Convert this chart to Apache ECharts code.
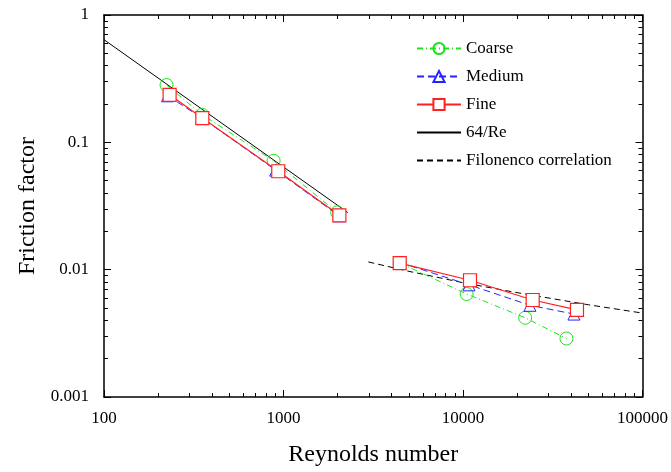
<!DOCTYPE html>
<html><head><meta charset="utf-8">
<script src="https://cdn.jsdelivr.net/npm/echarts@6/dist/echarts.min.js"></script>
<style>html,body{margin:0;padding:0;background:#fff}#c{width:671px;height:472px}</style>
</head><body><div id="c"></div>
<script>
const FONT = "'Times New Roman','Liberation Serif',serif";
// Coarse mesh
const coarseRe = [223, 352, 881, 1990, null, 4450, 10480, 22200, 37700];
const coarseF  = [0.282, 0.165, 0.0716, 0.0282, null, 0.0113, 0.00644, 0.00419, 0.00288];
// Medium mesh
const mediumRe = [226, 350, 905, 2040, null, 4450, 10800, 23600, 41500];
const mediumF  = [0.232, 0.156, 0.0605, 0.0265, null, 0.0114, 0.0076, 0.00525, 0.00448];
// Fine mesh
const fineRe = [232, 353, 935, 2048, null, 4440, 10940, 24450, 43150];
const fineF  = [0.236, 0.155, 0.0593, 0.0267, null, 0.01127, 0.00826, 0.00578, 0.00484];
// 64/Re laminar line (endpoints)
const lamRe = [100, 2280];
const lamF  = [0.64, 0.0281];
// Filonenko correlation
const filRe = [2970, 5000, 10000, 20000, 50000, 100000];
const filF  = [0.0115, 0.0097, 0.0079, 0.0066, 0.0053, 0.00456];
// tick labels
const xTicks = ["100", "1000", "10000", "100000"];
const yTicks = ["0.001", "0.01", "0.1", "1"];
// minor tick positions (2..9 within each decade)
const minorMult = [2, 3, 4, 5, 6, 7, 8, 9];
const xDecades = [100, 1000, 10000];
const yDecades = [0.001, 0.01, 0.1];

const zip = (a, b) => a.map((v, i) => v == null ? [null, null] : [v, b[i]]);
const minorOf = (decs) => { const out = []; decs.forEach(d => minorMult.forEach(m => out.push(+(d * m).toPrecision(6)))); return out; };
const xMinor = minorOf(xDecades);
const yMinor = minorOf(yDecades);

function fmtX(v){ const e = Math.round(Math.log10(v)); const s = xTicks.find(t => Math.round(Math.log10(+t)) === e); return s || ""; }
function fmtY(v){ const e = Math.round(Math.log10(v)); const s = yTicks.find(t => Math.round(Math.log10(+t)) === e); return s || ""; }

const lineAx = {show: true, lineStyle: {color: '#000', width: 1.5}};
const majorTick = {show: true, inside: true, length: 7, lineStyle: {color: '#000', width: 1}};
function minorAxis(base, pos, vals){
  return Object.assign({}, base, {position: pos, axisLine: {show: false}, axisLabel: {show: false},
    axisTick: {show: true, inside: true, length: 4, customValues: vals, lineStyle: {color: '#000', width: 1}},
    splitLine: {show: false}, name: ''});
}
const xBase = {type: 'log', logBase: 10, min: 100, max: 100000, splitLine: {show: false}};
const yBase = {type: 'log', logBase: 10, min: 0.001, max: 1, splitLine: {show: false}};

const chart = echarts.init(document.getElementById('c'));
chart.setOption({
  animation: false,
  backgroundColor: '#fff',
  textStyle: {fontFamily: FONT},
  grid: {left: 104, right: 27, top: 15, bottom: 72},
  legend: {
    orient: 'vertical', left: 411, top: 35, itemWidth: 44, itemHeight: 14, itemGap: 11,
    textStyle: {fontFamily: FONT, fontSize: 17, color: '#000'},
    data: ['Coarse', 'Medium', 'Fine',
      {name: '64/Re', itemStyle: {opacity: 0}},
      {name: 'Filonenco correlation', itemStyle: {opacity: 0}}]
  },
  xAxis: [
    Object.assign({}, xBase, {position: 'bottom',
      name: 'Reynolds number', nameLocation: 'middle', nameGap: 46,
      nameTextStyle: {fontFamily: FONT, fontSize: 24, color: '#000'},
      axisLine: lineAx, axisTick: majorTick,
      axisLabel: {formatter: fmtX, fontFamily: FONT, fontSize: 17, color: '#000', margin: 13}}),
    Object.assign({}, xBase, {position: 'top', axisLine: lineAx, axisTick: majorTick, axisLabel: {show: false}}),
    minorAxis(xBase, 'bottom', xMinor),
    minorAxis(xBase, 'top', xMinor)
  ],
  yAxis: [
    Object.assign({}, yBase, {position: 'left',
      name: 'Friction factor', nameLocation: 'middle', nameGap: 56, nameRotate: 90,
      nameTextStyle: {fontFamily: FONT, fontSize: 24, color: '#000'},
      axisLine: lineAx, axisTick: majorTick,
      axisLabel: {formatter: fmtY, fontFamily: FONT, fontSize: 17, color: '#000', margin: 15}}),
    Object.assign({}, yBase, {position: 'right', axisLine: lineAx, axisTick: majorTick, axisLabel: {show: false}}),
    minorAxis(yBase, 'left', yMinor),
    minorAxis(yBase, 'right', yMinor)
  ],
  series: [
    {name: '64/Re', type: 'line', data: zip(lamRe, lamF), symbol: 'none', z: 1,
      lineStyle: {color: '#000', width: 1}, itemStyle: {color: '#000'}},
    {name: 'Filonenco correlation', type: 'line', data: zip(filRe, filF), symbol: 'none', z: 1,
      lineStyle: {color: '#000', width: 1, type: [6, 4]}, itemStyle: {color: '#000'}},
    {name: 'Coarse', type: 'line', data: zip(coarseRe, coarseF), connectNulls: false,
      symbol: 'circle', symbolSize: 13, z: 2,
      lineStyle: {color: '#1de51d', width: 1, type: [6, 3, 1, 3]},
      itemStyle: {color: 'rgba(255,255,255,0)', borderColor: '#1de51d', borderWidth: 1}},
    {name: 'Medium', type: 'line', data: zip(mediumRe, mediumF), connectNulls: false,
      symbol: 'triangle', symbolSize: 12, z: 3,
      lineStyle: {color: '#2424ff', width: 1, type: [7, 4]},
      itemStyle: {color: 'rgba(255,255,255,0)', borderColor: '#2424ff', borderWidth: 1}},
    {name: 'Fine', type: 'line', data: zip(fineRe, fineF), connectNulls: false,
      symbol: 'rect', symbolSize: 13, z: 4,
      lineStyle: {color: '#ff2020', width: 1.2},
      itemStyle: {color: '#fff', borderColor: '#ff2020', borderWidth: 1.2}}
  ]
});
</script></body></html>
